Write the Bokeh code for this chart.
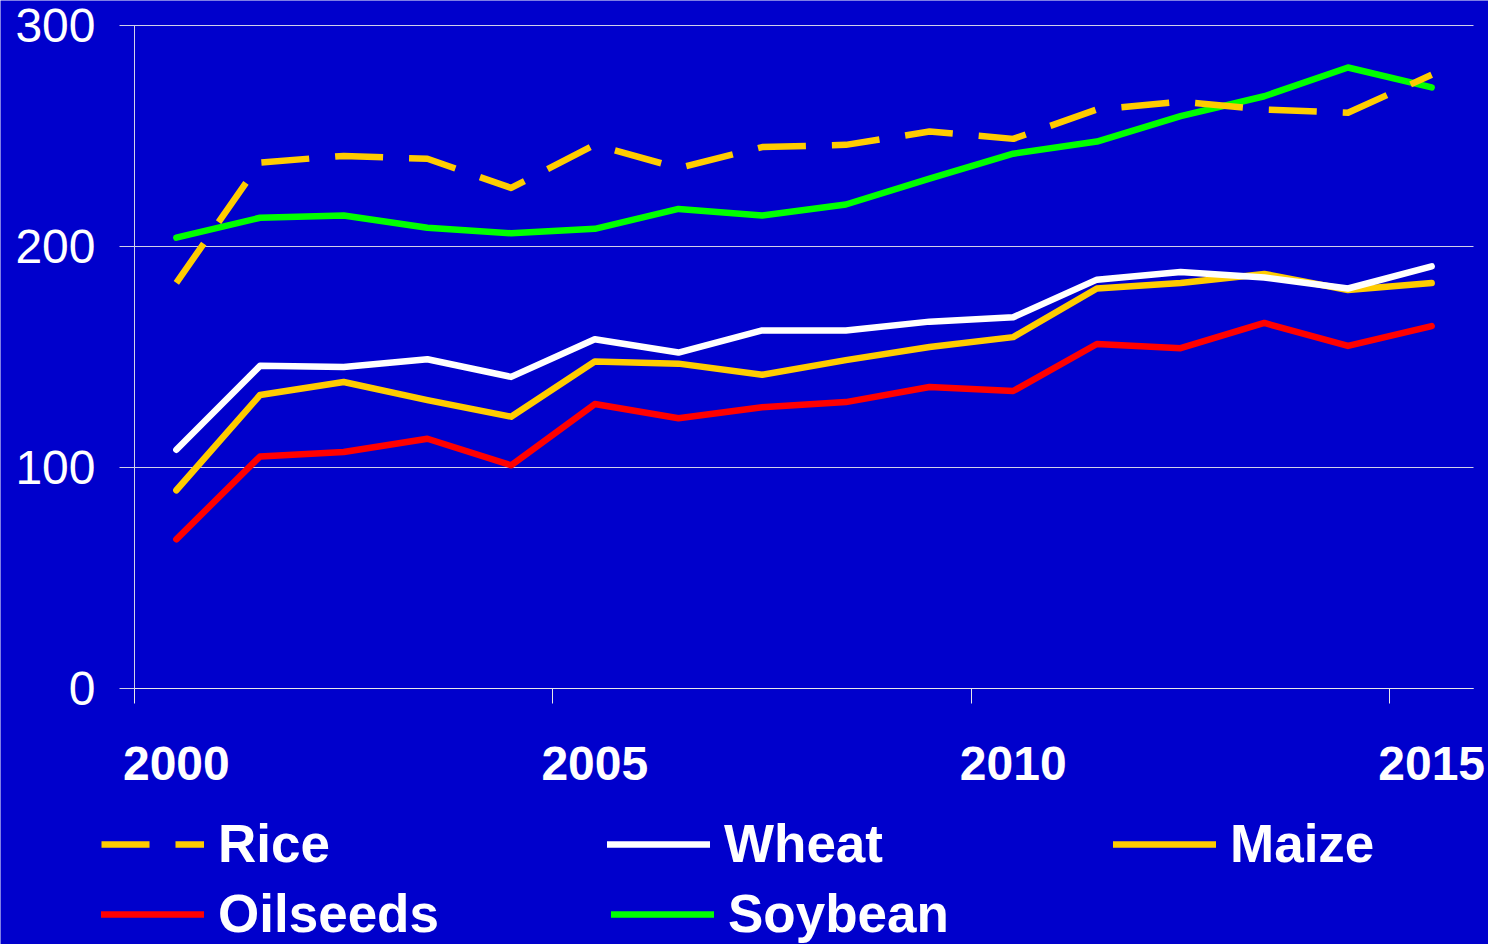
from bokeh.plotting import figure
from bokeh.models import Range1d, FixedTicker, Legend, LegendItem, ColumnDataSource
from bokeh.embed import file_html
from bokeh.resources import INLINE

years = list(range(2000, 2016))
tick_labels = {0: "2000", 5: "2005", 10: "2010", 15: "2015"}

rice = [183.5, 238, 241, 239.7, 226.5, 246, 235.5, 245, 246, 252, 248.7, 262, 265.5, 262, 260.5, 277.7]
wheat = [108, 146, 145.5, 149, 141, 158, 152, 162, 162, 166, 168, 185, 188.5, 186, 181, 191]
maize = [89.7, 132.8, 138.7, 130.5, 123, 148, 147, 142, 148.6, 154.5, 159, 181, 183.5, 187.6, 180.3, 183.5]
oilseeds = [67.5, 105, 107, 113, 101, 128.7, 122.3, 127.3, 129.6, 136.4, 134.6, 155.9, 154, 165.4, 155, 164]
soybean = [204, 213, 214, 208.5, 206, 208, 217, 214, 219, 230.7, 242, 247.5, 259, 268, 281, 272]

BG = "#0000CC"
GOLD = "#FFCC00"
W = 6.5

styles = {
    "Rice": dict(line_color=GOLD, line_width=W, line_dash="48 26", line_join="round"),
    "Wheat": dict(line_color="white", line_width=W, line_cap="round", line_join="round"),
    "Maize": dict(line_color=GOLD, line_width=W, line_cap="round", line_join="round"),
    "Oilseeds": dict(line_color="#FF0000", line_width=W, line_cap="round", line_join="round"),
    "Soybean": dict(line_color="#00FF00", line_width=W, line_cap="round", line_join="round"),
}

x = [y - 2000 for y in years]

# page geometry (pixels): plot area spans x 134..1473, y 25 (=300) .. 688 (=0)
PW, PH = 1488, 944
L, R, T, B = 134, 1473, 25, 688
sx = (R - L) / 16.0
sy = (B - T) / 300.0
x_range = Range1d(-0.5 - L / sx, 15.5 + (PW - R) / sx)
y_range = Range1d(-(PH - B) / sy, 300 + T / sy)

p = figure(width=PW, height=PH, output_backend="svg", toolbar_location=None,
           x_range=x_range, y_range=y_range,
           min_border_left=0, min_border_right=0, min_border_top=0, min_border_bottom=0)
p.background_fill_color = BG
p.border_fill_color = BG
p.outline_line_color = None
p.grid.visible = False

AX = "#d0d0e8"
# y axis, fixed at the left edge of the category area
p.yaxis.fixed_location = -0.5
p.yaxis.bounds = (0, 300)
p.yaxis.level = "underlay"
p.yaxis.ticker = FixedTicker(ticks=[0, 100, 200, 300])
p.yaxis.major_tick_out = 15
p.yaxis.major_tick_in = R - L   # ticks run across the plot like gridlines
p.yaxis.minor_tick_line_color = None
p.yaxis.axis_line_color = AX
p.yaxis.major_tick_line_color = AX
p.yaxis.major_label_text_color = "white"
p.yaxis.major_label_text_font = "Liberation Sans"
p.yaxis.major_label_text_font_size = "48px"
p.yaxis.major_label_standoff = 24

# x axis, fixed at y = 0
p.xaxis.fixed_location = 0
p.xaxis.bounds = (-0.5, 15.5)
p.xaxis.ticker = FixedTicker(ticks=[0, 5, 10, 15], minor_ticks=[-0.5, 4.5, 9.5, 14.5])
p.xaxis.major_label_overrides = tick_labels
p.xaxis.major_tick_out = 0
p.xaxis.major_tick_in = 0
p.xaxis.minor_tick_out = 15
p.xaxis.minor_tick_in = 0
p.xaxis.minor_tick_line_color = "#e8e8e8"
p.xaxis.axis_line_color = "#e8e8e8"
p.xaxis.major_label_text_color = "white"
p.xaxis.major_label_text_font = "Liberation Sans"
p.xaxis.major_label_text_font_style = "bold"
p.xaxis.major_label_text_font_size = "48px"
p.xaxis.major_label_standoff = 43

src = ColumnDataSource(dict(x=x, Rice=rice, Wheat=wheat, Maize=maize, Oilseeds=oilseeds, Soybean=soybean))
rend = {}
for name in ["Soybean", "Oilseeds", "Maize", "Wheat", "Rice"]:
    rend[name] = p.line("x", name, source=src, **styles[name])

def mk_legend(names, label_width, spacing, loc):
    return Legend(items=[LegendItem(label=n, renderers=[rend[n]]) for n in names],
                  location=loc, orientation="horizontal",
                  background_fill_alpha=0, border_line_alpha=0,
                  label_text_color="white", label_text_font="Liberation Sans",
                  label_text_font_style="bold", label_text_font_size="53px",
                  glyph_width=103, glyph_height=40, label_standoff=14, spacing=spacing,
                  label_width=label_width, padding=0, margin=0)

p.add_layout(mk_legend(["Rice", "Wheat", "Maize"], 160, 229, (101, 70)))
p.add_layout(mk_legend(["Oilseeds", "Soybean"], 217, 172, (101, 0)))

open("out.html", "w").write(file_html(p, INLINE))
